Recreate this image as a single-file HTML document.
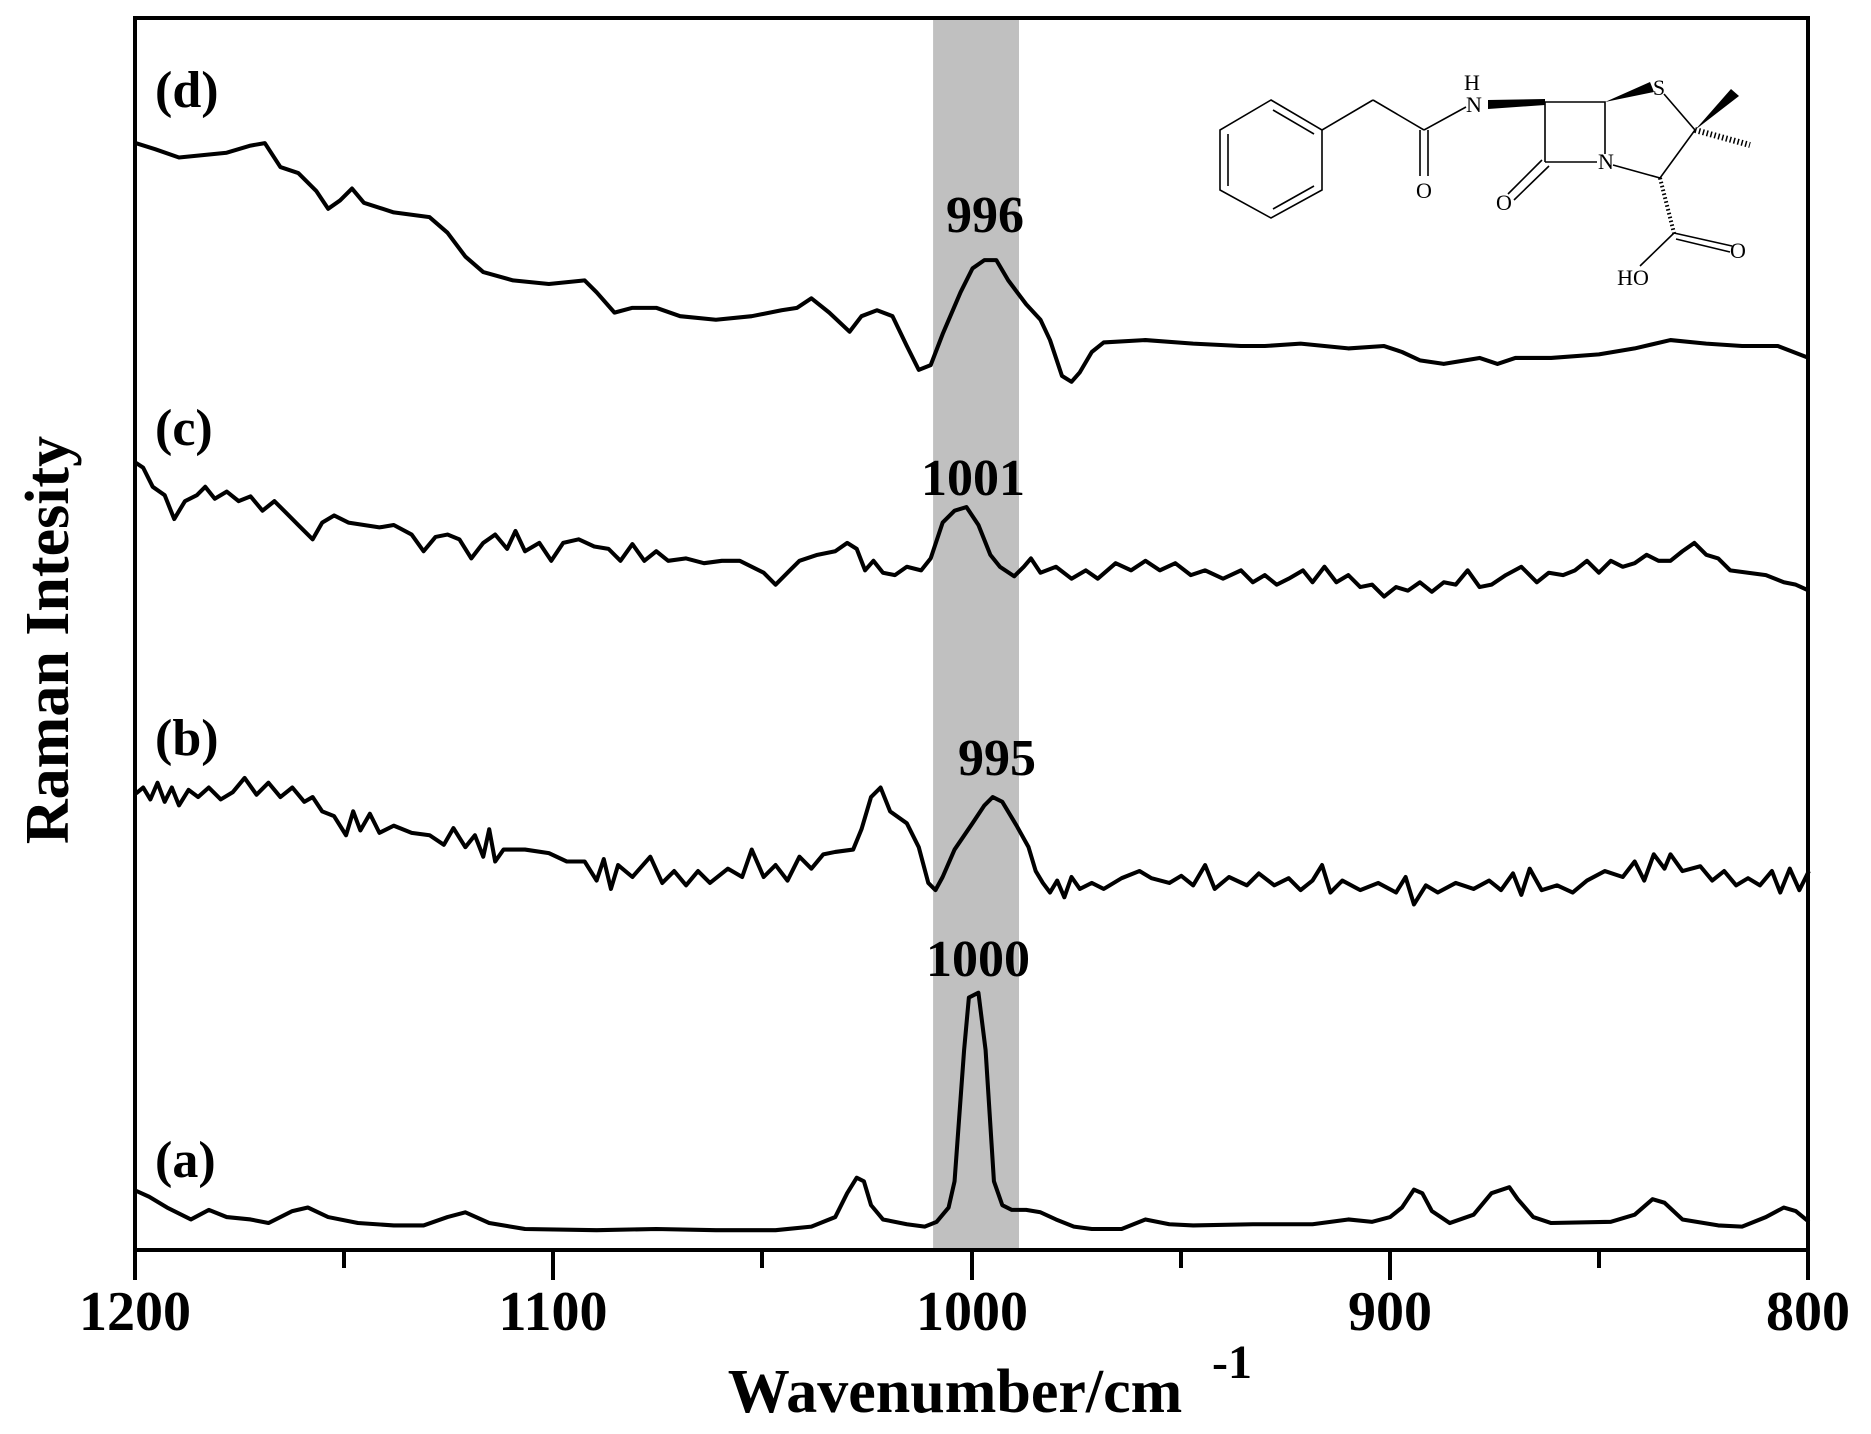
<!DOCTYPE html>
<html><head><style>html,body{margin:0;padding:0;background:#fff}svg{display:block}</style></head>
<body>
<svg width="1871" height="1434" viewBox="0 0 1871 1434" xmlns="http://www.w3.org/2000/svg" font-family="'Liberation Serif',serif">
<rect width="1871" height="1434" fill="#fff"/>
<g transform="scale(1.1932)">
<rect x="782" y="15" width="72" height="1032" fill="#c0c0c0"/>
<g fill="none" stroke="#000" stroke-width="3.4" stroke-linejoin="round">
<polyline points="114,998 125,1003 140,1012 160,1022 175,1014 190,1020 210,1022 225,1025 245,1015 258,1012 275,1020 300,1025 330,1027 355,1027 375,1020 390,1016 410,1025 440,1030 500,1031 550,1030 600,1031 650,1031 680,1028 700,1020 710,1000 718,987 724,990 730,1010 740,1022 760,1026 775,1028 785,1024 795,1012 800,990 808,880 812,836 820,832 826,880 833,990 840,1010 848,1014 860,1014 872,1016 885,1022 900,1028 915,1030 940,1030 960,1022 980,1026 1000,1027 1050,1026 1100,1026 1130,1022 1150,1024 1165,1020 1175,1012 1185,997 1192,1000 1200,1015 1215,1025 1235,1018 1250,1000 1265,995 1272,1005 1285,1020 1300,1025 1350,1024 1370,1018 1385,1005 1395,1008 1410,1022 1440,1027 1460,1028 1480,1020 1495,1012 1505,1015 1516,1024"/>
<polyline points="114,665 120,660 126,670 132,656 138,672 144,660 150,675 158,662 166,668 175,660 185,670 195,664 205,652 215,666 225,656 235,668 245,660 255,672 262,668 270,680 280,684 290,700 296,680 302,696 310,682 318,698 330,692 345,698 360,700 372,708 380,694 390,710 398,700 405,718 410,695 415,722 422,712 440,712 460,715 475,722 490,722 500,738 506,720 512,745 518,725 530,735 545,718 555,740 565,730 575,742 585,730 595,740 610,728 622,735 630,712 640,735 650,725 660,738 670,718 680,728 690,716 700,714 715,712 722,695 730,668 738,660 746,680 760,690 770,710 778,740 784,746 790,735 800,712 815,690 825,675 832,668 840,672 852,692 862,710 868,730 874,740 880,748 886,738 892,752 898,735 905,745 915,740 925,745 940,736 955,730 965,736 980,740 990,734 1000,742 1010,725 1018,745 1030,735 1045,742 1055,732 1068,742 1080,736 1090,746 1100,738 1108,725 1115,748 1125,738 1140,746 1155,740 1170,748 1178,735 1185,758 1195,742 1205,748 1220,740 1235,745 1248,738 1258,746 1268,732 1275,750 1282,728 1292,746 1305,742 1318,748 1330,738 1345,730 1360,735 1370,722 1378,738 1386,716 1395,728 1400,716 1410,730 1425,726 1435,738 1445,730 1455,742 1465,736 1475,742 1485,730 1492,748 1500,728 1508,746 1516,730"/>
<polyline points="114,388 120,392 128,408 138,415 146,435 155,420 165,415 172,408 180,418 190,412 200,420 210,416 220,428 230,420 240,430 250,440 262,452 270,438 280,432 292,438 305,440 318,442 330,440 345,448 355,462 365,450 375,448 385,452 395,468 405,455 415,448 425,460 432,445 440,462 452,455 462,470 472,455 485,452 498,458 510,460 520,470 530,456 540,470 550,462 560,470 575,468 590,472 605,470 620,470 632,476 640,480 650,490 660,480 670,470 685,465 700,462 710,455 718,460 725,478 732,470 740,480 750,482 760,475 772,478 780,468 790,438 800,428 810,425 820,440 830,465 838,475 850,483 858,475 864,468 872,480 885,475 898,485 910,478 920,485 935,472 948,478 960,470 972,478 985,472 998,482 1010,478 1025,485 1040,478 1050,488 1060,482 1070,490 1080,485 1092,478 1100,488 1110,475 1120,488 1130,482 1140,492 1150,490 1160,500 1170,492 1180,495 1190,488 1200,496 1210,488 1220,490 1230,478 1240,492 1250,490 1262,482 1275,475 1288,488 1298,480 1310,482 1320,478 1330,470 1340,480 1350,470 1360,475 1370,472 1380,465 1390,470 1400,470 1410,462 1420,455 1430,465 1440,468 1450,478 1465,480 1480,482 1495,488 1505,490 1516,495"/>
<polyline points="114,120 130,125 150,132 170,130 190,128 210,122 222,120 235,140 250,145 265,160 275,175 285,168 295,158 305,170 330,178 360,182 375,195 390,215 405,228 430,235 460,238 490,235 500,245 515,262 530,258 550,258 570,265 600,268 630,265 655,260 668,258 680,250 695,262 712,278 722,265 735,260 748,265 760,290 770,310 780,306 790,280 805,245 815,225 825,218 835,218 845,235 860,255 872,268 880,285 890,315 898,320 905,312 915,295 925,287 960,285 1000,288 1040,290 1060,290 1090,288 1130,292 1160,290 1175,295 1190,302 1210,305 1240,300 1255,305 1270,300 1300,300 1340,297 1370,292 1400,285 1430,288 1460,290 1490,290 1516,300"/>
</g>
</g>
<!-- axes box -->
<rect x="135" y="18" width="1673" height="1232" fill="none" stroke="#000" stroke-width="4"/>
<g stroke="#000" stroke-width="4">
<line x1="135" y1="1250" x2="135" y2="1280"/>
<line x1="553" y1="1250" x2="553" y2="1280"/>
<line x1="972" y1="1250" x2="972" y2="1280"/>
<line x1="1390" y1="1250" x2="1390" y2="1280"/>
<line x1="1808" y1="1250" x2="1808" y2="1280"/>
<line x1="344" y1="1250" x2="344" y2="1268"/>
<line x1="762" y1="1250" x2="762" y2="1268"/>
<line x1="1181" y1="1250" x2="1181" y2="1268"/>
<line x1="1599" y1="1250" x2="1599" y2="1268"/>
</g>
<g font-weight="bold" font-size="56" text-anchor="middle">
<text x="135" y="1330">1200</text>
<text x="553" y="1330">1100</text>
<text x="972" y="1330">1000</text>
<text x="1390" y="1330">900</text>
<text x="1808" y="1330">800</text>
</g>
<text x="955" y="1412" font-weight="bold" font-size="62" text-anchor="middle">Wavenumber/cm</text>
<text x="1232" y="1378" font-weight="bold" font-size="48" text-anchor="middle">-1</text>
<text transform="translate(68,640) rotate(-90)" font-weight="bold" font-size="62" text-anchor="middle">Raman Intesity</text>
<g font-weight="bold" font-size="52">
<text x="155" y="107">(d)</text>
<text x="155" y="445">(c)</text>
<text x="155" y="755">(b)</text>
<text x="155" y="1177">(a)</text>
<text x="985" y="232" text-anchor="middle">996</text>
<text x="973" y="495" text-anchor="middle">1001</text>
<text x="997" y="775" text-anchor="middle">995</text>
<text x="978" y="976" text-anchor="middle">1000</text>
</g>
<!-- molecule -->
<g stroke="#000" stroke-width="1.6" fill="none">
<polygon points="1271,100 1322,130 1322,190 1271,218 1220,190 1220,130"/>
<line x1="1273" y1="110" x2="1314" y2="134"/>
<line x1="1314" y1="186" x2="1273" y2="209"/>
<line x1="1228" y1="186" x2="1228" y2="134"/>
<line x1="1322" y1="130" x2="1373" y2="100"/>
<line x1="1373" y1="100" x2="1424" y2="130"/>
<line x1="1420" y1="130" x2="1420" y2="176"/>
<line x1="1428" y1="130" x2="1428" y2="176"/>
<line x1="1424" y1="130" x2="1466" y2="107"/>
<polyline points="1545,102 1605,102 1605,154"/>
<line x1="1545" y1="102" x2="1545" y2="162"/>
<line x1="1545" y1="162" x2="1597" y2="162"/>
<line x1="1542" y1="160" x2="1508" y2="194"/>
<line x1="1549" y1="166" x2="1514" y2="200"/>
<line x1="1613" y1="165" x2="1660" y2="178"/>
<line x1="1660" y1="178" x2="1695" y2="130"/>
<line x1="1695" y1="130" x2="1664" y2="94"/>
<line x1="1674" y1="233" x2="1732" y2="246"/>
<line x1="1676" y1="239" x2="1730" y2="252"/>
<line x1="1674" y1="233" x2="1640" y2="266"/>
<line x1="1660" y1="178" x2="1674" y2="233" stroke-dasharray="1.5,2.5" stroke-width="4"/>
<line x1="1695" y1="130" x2="1750" y2="145" stroke-dasharray="1.5,2.5" stroke-width="6"/>
</g>
<g fill="#000">
<polygon points="1488,100 1545,99 1545,105 1488,109"/>
<polygon points="1605,102 1650,82 1654,92"/>
<polygon points="1695,130 1731,89 1739,96"/>
</g>
<g font-size="22" text-anchor="middle">
<text x="1424" y="198">O</text>
<text x="1474" y="112">N</text>
<text x="1472" y="90">H</text>
<text x="1504" y="210">O</text>
<text x="1606" y="169">N</text>
<text x="1659" y="95">S</text>
<text x="1738" y="258">O</text>
<text x="1633" y="285">HO</text>
</g>
</svg>
</body></html>
